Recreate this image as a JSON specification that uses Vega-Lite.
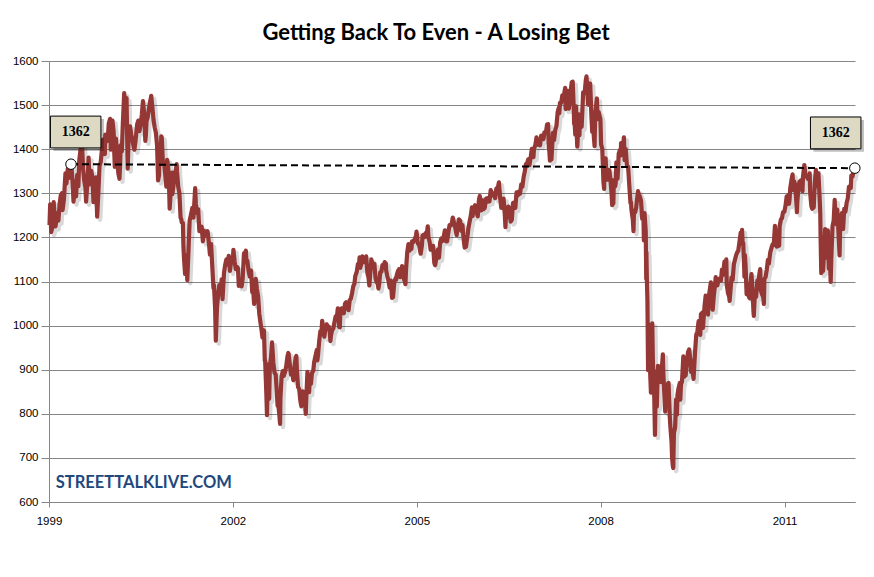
{
  "$schema": "https://vega.github.io/schema/vega-lite/v6.json",
  "width": 806,
  "height": 441,
  "autosize": "none",
  "padding": {"left": 49, "top": 61, "right": 19, "bottom": 75},
  "background": "white",
  "config": {"view": {"stroke": null}, "font": "Lato"},
  "title": {
    "text": "Getting Back To Even - A Losing Bet",
    "font": "Lato",
    "fontSize": 22,
    "fontWeight": "bold",
    "color": "#000000",
    "anchor": "middle",
    "dx": -16,
    "dy": 32,
    "offset": 20,
    "baseline": "bottom"
  },
  "datasets": {
    "sp": [
      {"d":"1999-01-04","v":1228},{"d":"1999-01-08","v":1275},{"d":"1999-01-14","v":1212},{"d":"1999-01-22","v":1225},{"d":"1999-01-29","v":1280},
      {"d":"1999-02-05","v":1240},{"d":"1999-02-09","v":1225},{"d":"1999-02-18","v":1255},{"d":"1999-02-26","v":1238},
      {"d":"1999-03-05","v":1275},{"d":"1999-03-12","v":1295},{"d":"1999-03-19","v":1300},{"d":"1999-03-23","v":1262},{"d":"1999-03-31","v":1286},
      {"d":"1999-04-09","v":1345},{"d":"1999-04-15","v":1322},{"d":"1999-04-23","v":1356},{"d":"1999-04-30","v":1335},
      {"d":"1999-05-07","v":1345},{"d":"1999-05-13","v":1367},{"d":"1999-05-21","v":1330},{"d":"1999-05-27","v":1281},{"d":"1999-05-31","v":1302},
      {"d":"1999-06-04","v":1327},{"d":"1999-06-11","v":1293},{"d":"1999-06-18","v":1342},{"d":"1999-06-25","v":1316},{"d":"1999-06-30","v":1373},
      {"d":"1999-07-09","v":1403},{"d":"1999-07-16","v":1418},{"d":"1999-07-23","v":1356},{"d":"1999-07-30","v":1329},
      {"d":"1999-08-06","v":1313},{"d":"1999-08-10","v":1281},{"d":"1999-08-20","v":1336},{"d":"1999-08-25","v":1381},{"d":"1999-08-31","v":1320},
      {"d":"1999-09-10","v":1351},{"d":"1999-09-17","v":1335},{"d":"1999-09-23","v":1280},{"d":"1999-09-30","v":1282},
      {"d":"1999-10-08","v":1336},{"d":"1999-10-15","v":1247},{"d":"1999-10-22","v":1301},{"d":"1999-10-29","v":1362},
      {"d":"1999-11-05","v":1370},{"d":"1999-11-12","v":1397},{"d":"1999-11-19","v":1422},{"d":"1999-11-26","v":1417},{"d":"1999-11-30","v":1389},
      {"d":"1999-12-03","v":1433},{"d":"1999-12-10","v":1417},{"d":"1999-12-17","v":1421},{"d":"1999-12-23","v":1458},{"d":"1999-12-31","v":1469},
      {"d":"2000-01-03","v":1455},{"d":"2000-01-04","v":1399},{"d":"2000-01-07","v":1441},{"d":"2000-01-14","v":1465},{"d":"2000-01-21","v":1441},{"d":"2000-01-28","v":1360},{"d":"2000-01-31","v":1394},
      {"d":"2000-02-04","v":1424},{"d":"2000-02-11","v":1387},{"d":"2000-02-18","v":1346},{"d":"2000-02-25","v":1333},{"d":"2000-02-29","v":1366},
      {"d":"2000-03-03","v":1409},{"d":"2000-03-10","v":1395},{"d":"2000-03-16","v":1458},{"d":"2000-03-24","v":1527},{"d":"2000-03-31","v":1499},
      {"d":"2000-04-07","v":1516},{"d":"2000-04-14","v":1356},{"d":"2000-04-20","v":1434},{"d":"2000-04-28","v":1452},
      {"d":"2000-05-05","v":1433},{"d":"2000-05-12","v":1421},{"d":"2000-05-19","v":1406},{"d":"2000-05-24","v":1399},{"d":"2000-05-31","v":1420},
      {"d":"2000-06-09","v":1456},{"d":"2000-06-16","v":1465},{"d":"2000-06-23","v":1441},{"d":"2000-06-30","v":1455},
      {"d":"2000-07-07","v":1478},{"d":"2000-07-14","v":1509},{"d":"2000-07-21","v":1481},{"d":"2000-07-28","v":1419},{"d":"2000-07-31","v":1431},
      {"d":"2000-08-04","v":1463},{"d":"2000-08-11","v":1472},{"d":"2000-08-18","v":1491},{"d":"2000-08-25","v":1507},{"d":"2000-08-31","v":1518},
      {"d":"2000-09-01","v":1521},{"d":"2000-09-08","v":1495},{"d":"2000-09-15","v":1466},{"d":"2000-09-22","v":1449},{"d":"2000-09-29","v":1437},
      {"d":"2000-10-06","v":1408},{"d":"2000-10-12","v":1329},{"d":"2000-10-18","v":1342},{"d":"2000-10-20","v":1396},{"d":"2000-10-27","v":1379},{"d":"2000-10-31","v":1429},
      {"d":"2000-11-03","v":1427},{"d":"2000-11-10","v":1366},{"d":"2000-11-17","v":1368},{"d":"2000-11-24","v":1341},{"d":"2000-11-30","v":1315},
      {"d":"2000-12-05","v":1376},{"d":"2000-12-08","v":1370},{"d":"2000-12-15","v":1340},{"d":"2000-12-20","v":1265},{"d":"2000-12-29","v":1320},
      {"d":"2001-01-03","v":1347},{"d":"2001-01-05","v":1298},{"d":"2001-01-12","v":1318},{"d":"2001-01-19","v":1342},{"d":"2001-01-26","v":1354},{"d":"2001-01-31","v":1366},
      {"d":"2001-02-02","v":1349},{"d":"2001-02-09","v":1315},{"d":"2001-02-16","v":1301},{"d":"2001-02-23","v":1245},{"d":"2001-02-28","v":1240},
      {"d":"2001-03-02","v":1234},{"d":"2001-03-09","v":1233},{"d":"2001-03-12","v":1180},{"d":"2001-03-16","v":1150},{"d":"2001-03-22","v":1117},{"d":"2001-03-30","v":1160},
      {"d":"2001-04-04","v":1103},{"d":"2001-04-11","v":1168},{"d":"2001-04-18","v":1238},{"d":"2001-04-27","v":1253},
      {"d":"2001-05-04","v":1267},{"d":"2001-05-11","v":1245},{"d":"2001-05-21","v":1312},{"d":"2001-05-25","v":1277},{"d":"2001-05-31","v":1256},
      {"d":"2001-06-08","v":1264},{"d":"2001-06-15","v":1214},{"d":"2001-06-22","v":1225},{"d":"2001-06-29","v":1224},
      {"d":"2001-07-06","v":1191},{"d":"2001-07-13","v":1215},{"d":"2001-07-20","v":1210},{"d":"2001-07-27","v":1205},{"d":"2001-07-31","v":1211},
      {"d":"2001-08-03","v":1214},{"d":"2001-08-10","v":1190},{"d":"2001-08-17","v":1161},{"d":"2001-08-24","v":1185},{"d":"2001-08-31","v":1134},
      {"d":"2001-09-07","v":1085},{"d":"2001-09-10","v":1092},{"d":"2001-09-17","v":1039},{"d":"2001-09-21","v":966},{"d":"2001-09-28","v":1041},
      {"d":"2001-10-05","v":1071},{"d":"2001-10-12","v":1092},{"d":"2001-10-19","v":1073},{"d":"2001-10-26","v":1105},{"d":"2001-10-31","v":1060},
      {"d":"2001-11-09","v":1120},{"d":"2001-11-16","v":1138},{"d":"2001-11-23","v":1150},{"d":"2001-11-30","v":1139},
      {"d":"2001-12-07","v":1158},{"d":"2001-12-14","v":1124},{"d":"2001-12-21","v":1144},{"d":"2001-12-31","v":1148},
      {"d":"2002-01-04","v":1172},{"d":"2002-01-11","v":1146},{"d":"2002-01-18","v":1128},{"d":"2002-01-25","v":1133},{"d":"2002-01-31","v":1130},
      {"d":"2002-02-05","v":1090},{"d":"2002-02-08","v":1096},{"d":"2002-02-15","v":1104},{"d":"2002-02-22","v":1089},{"d":"2002-02-28","v":1107},
      {"d":"2002-03-08","v":1164},{"d":"2002-03-15","v":1166},{"d":"2002-03-19","v":1170},{"d":"2002-03-22","v":1149},{"d":"2002-03-28","v":1147},
      {"d":"2002-04-05","v":1122},{"d":"2002-04-12","v":1111},{"d":"2002-04-19","v":1125},{"d":"2002-04-26","v":1076},{"d":"2002-04-30","v":1077},
      {"d":"2002-05-03","v":1073},{"d":"2002-05-07","v":1049},{"d":"2002-05-10","v":1054},{"d":"2002-05-17","v":1106},{"d":"2002-05-24","v":1083},{"d":"2002-05-31","v":1067},
      {"d":"2002-06-07","v":1027},{"d":"2002-06-14","v":1007},{"d":"2002-06-21","v":989},{"d":"2002-06-26","v":973},{"d":"2002-06-28","v":990},
      {"d":"2002-07-05","v":989},{"d":"2002-07-10","v":920},{"d":"2002-07-12","v":921},{"d":"2002-07-19","v":847},{"d":"2002-07-23","v":797},{"d":"2002-07-26","v":852},{"d":"2002-07-31","v":912},
      {"d":"2002-08-02","v":864},{"d":"2002-08-05","v":834},{"d":"2002-08-09","v":908},{"d":"2002-08-16","v":928},{"d":"2002-08-22","v":962},{"d":"2002-08-30","v":916},
      {"d":"2002-09-06","v":893},{"d":"2002-09-13","v":889},{"d":"2002-09-20","v":846},{"d":"2002-09-24","v":819},{"d":"2002-09-30","v":815},
      {"d":"2002-10-04","v":800},{"d":"2002-10-09","v":777},{"d":"2002-10-11","v":835},{"d":"2002-10-18","v":884},{"d":"2002-10-25","v":897},{"d":"2002-10-31","v":886},
      {"d":"2002-11-08","v":895},{"d":"2002-11-15","v":909},{"d":"2002-11-22","v":930},{"d":"2002-11-27","v":938},{"d":"2002-11-29","v":936},
      {"d":"2002-12-06","v":912},{"d":"2002-12-13","v":889},{"d":"2002-12-20","v":895},{"d":"2002-12-27","v":876},{"d":"2002-12-31","v":880},
      {"d":"2003-01-03","v":908},{"d":"2003-01-10","v":927},{"d":"2003-01-14","v":931},{"d":"2003-01-17","v":901},{"d":"2003-01-24","v":861},{"d":"2003-01-31","v":856},
      {"d":"2003-02-07","v":829},{"d":"2003-02-13","v":817},{"d":"2003-02-14","v":834},{"d":"2003-02-21","v":851},{"d":"2003-02-28","v":841},
      {"d":"2003-03-07","v":829},{"d":"2003-03-11","v":800},{"d":"2003-03-14","v":833},{"d":"2003-03-21","v":895},{"d":"2003-03-28","v":863},{"d":"2003-03-31","v":849},
      {"d":"2003-04-04","v":878},{"d":"2003-04-11","v":868},{"d":"2003-04-17","v":893},{"d":"2003-04-25","v":898},{"d":"2003-04-30","v":917},
      {"d":"2003-05-09","v":933},{"d":"2003-05-16","v":945},{"d":"2003-05-19","v":921},{"d":"2003-05-23","v":933},{"d":"2003-05-30","v":964},
      {"d":"2003-06-06","v":987},{"d":"2003-06-13","v":988},{"d":"2003-06-17","v":1011},{"d":"2003-06-24","v":983},{"d":"2003-06-30","v":975},
      {"d":"2003-07-03","v":985},{"d":"2003-07-11","v":998},{"d":"2003-07-14","v":1003},{"d":"2003-07-18","v":994},{"d":"2003-07-25","v":998},{"d":"2003-07-31","v":990},
      {"d":"2003-08-05","v":965},{"d":"2003-08-08","v":977},{"d":"2003-08-15","v":990},{"d":"2003-08-22","v":993},{"d":"2003-08-29","v":1008},
      {"d":"2003-09-05","v":1021},{"d":"2003-09-12","v":1018},{"d":"2003-09-18","v":1039},{"d":"2003-09-26","v":997},{"d":"2003-09-30","v":996},
      {"d":"2003-10-03","v":1029},{"d":"2003-10-10","v":1039},{"d":"2003-10-17","v":1039},{"d":"2003-10-24","v":1028},{"d":"2003-10-31","v":1050},
      {"d":"2003-11-07","v":1053},{"d":"2003-11-14","v":1050},{"d":"2003-11-21","v":1035},{"d":"2003-11-28","v":1058},
      {"d":"2003-12-05","v":1061},{"d":"2003-12-12","v":1074},{"d":"2003-12-19","v":1089},{"d":"2003-12-26","v":1095},{"d":"2003-12-31","v":1112},
      {"d":"2004-01-09","v":1122},{"d":"2004-01-16","v":1140},{"d":"2004-01-23","v":1141},{"d":"2004-01-26","v":1155},{"d":"2004-01-30","v":1131},
      {"d":"2004-02-06","v":1142},{"d":"2004-02-11","v":1157},{"d":"2004-02-20","v":1144},{"d":"2004-02-27","v":1145},
      {"d":"2004-03-05","v":1157},{"d":"2004-03-12","v":1120},{"d":"2004-03-19","v":1109},{"d":"2004-03-24","v":1091},{"d":"2004-03-31","v":1126},
      {"d":"2004-04-05","v":1150},{"d":"2004-04-16","v":1134},{"d":"2004-04-23","v":1140},{"d":"2004-04-30","v":1107},
      {"d":"2004-05-07","v":1098},{"d":"2004-05-12","v":1097},{"d":"2004-05-17","v":1084},{"d":"2004-05-21","v":1093},{"d":"2004-05-28","v":1121},
      {"d":"2004-06-04","v":1122},{"d":"2004-06-10","v":1137},{"d":"2004-06-18","v":1135},{"d":"2004-06-23","v":1144},{"d":"2004-06-30","v":1141},
      {"d":"2004-07-02","v":1126},{"d":"2004-07-09","v":1112},{"d":"2004-07-16","v":1101},{"d":"2004-07-23","v":1086},{"d":"2004-07-30","v":1102},
      {"d":"2004-08-06","v":1063},{"d":"2004-08-12","v":1064},{"d":"2004-08-20","v":1099},{"d":"2004-08-27","v":1107},{"d":"2004-08-31","v":1104},
      {"d":"2004-09-03","v":1114},{"d":"2004-09-10","v":1123},{"d":"2004-09-17","v":1128},{"d":"2004-09-24","v":1110},{"d":"2004-09-30","v":1115},
      {"d":"2004-10-05","v":1135},{"d":"2004-10-15","v":1108},{"d":"2004-10-25","v":1094},{"d":"2004-10-29","v":1130},
      {"d":"2004-11-05","v":1167},{"d":"2004-11-12","v":1185},{"d":"2004-11-19","v":1170},{"d":"2004-11-26","v":1182},{"d":"2004-11-30","v":1174},
      {"d":"2004-12-03","v":1191},{"d":"2004-12-10","v":1189},{"d":"2004-12-17","v":1194},{"d":"2004-12-27","v":1204},{"d":"2004-12-30","v":1213},
      {"d":"2005-01-07","v":1186},{"d":"2005-01-14","v":1184},{"d":"2005-01-21","v":1168},{"d":"2005-01-24","v":1163},{"d":"2005-01-31","v":1181},
      {"d":"2005-02-04","v":1204},{"d":"2005-02-11","v":1206},{"d":"2005-02-18","v":1201},{"d":"2005-02-25","v":1211},{"d":"2005-02-28","v":1204},
      {"d":"2005-03-07","v":1225},{"d":"2005-03-11","v":1200},{"d":"2005-03-18","v":1190},{"d":"2005-03-24","v":1172},{"d":"2005-03-31","v":1181},
      {"d":"2005-04-08","v":1181},{"d":"2005-04-15","v":1142},{"d":"2005-04-20","v":1137},{"d":"2005-04-29","v":1157},
      {"d":"2005-05-06","v":1172},{"d":"2005-05-13","v":1154},{"d":"2005-05-20","v":1189},{"d":"2005-05-27","v":1198},{"d":"2005-05-31","v":1191},
      {"d":"2005-06-03","v":1197},{"d":"2005-06-10","v":1201},{"d":"2005-06-17","v":1216},{"d":"2005-06-24","v":1191},{"d":"2005-06-30","v":1191},
      {"d":"2005-07-08","v":1212},{"d":"2005-07-15","v":1228},{"d":"2005-07-22","v":1227},{"d":"2005-07-29","v":1234},
      {"d":"2005-08-03","v":1245},{"d":"2005-08-12","v":1231},{"d":"2005-08-19","v":1220},{"d":"2005-08-26","v":1205},{"d":"2005-08-31","v":1220},
      {"d":"2005-09-09","v":1241},{"d":"2005-09-16","v":1238},{"d":"2005-09-23","v":1215},{"d":"2005-09-30","v":1228},
      {"d":"2005-10-07","v":1195},{"d":"2005-10-13","v":1177},{"d":"2005-10-21","v":1179},{"d":"2005-10-28","v":1199},{"d":"2005-10-31","v":1207},
      {"d":"2005-11-04","v":1220},{"d":"2005-11-11","v":1235},{"d":"2005-11-18","v":1248},{"d":"2005-11-25","v":1268},{"d":"2005-11-30","v":1249},
      {"d":"2005-12-02","v":1265},{"d":"2005-12-09","v":1259},{"d":"2005-12-14","v":1273},{"d":"2005-12-20","v":1260},{"d":"2005-12-30","v":1248},
      {"d":"2006-01-06","v":1285},{"d":"2006-01-11","v":1294},{"d":"2006-01-20","v":1261},{"d":"2006-01-27","v":1284},{"d":"2006-01-31","v":1280},
      {"d":"2006-02-03","v":1264},{"d":"2006-02-10","v":1267},{"d":"2006-02-17","v":1288},{"d":"2006-02-24","v":1289},{"d":"2006-02-28","v":1281},
      {"d":"2006-03-03","v":1288},{"d":"2006-03-10","v":1282},{"d":"2006-03-17","v":1307},{"d":"2006-03-24","v":1302},{"d":"2006-03-31","v":1295},
      {"d":"2006-04-07","v":1295},{"d":"2006-04-13","v":1289},{"d":"2006-04-20","v":1311},{"d":"2006-04-28","v":1311},
      {"d":"2006-05-05","v":1325},{"d":"2006-05-12","v":1291},{"d":"2006-05-19","v":1267},{"d":"2006-05-26","v":1280},{"d":"2006-05-31","v":1270},
      {"d":"2006-06-02","v":1288},{"d":"2006-06-09","v":1253},{"d":"2006-06-13","v":1223},{"d":"2006-06-16","v":1251},{"d":"2006-06-23","v":1245},{"d":"2006-06-30","v":1270},
      {"d":"2006-07-07","v":1265},{"d":"2006-07-14","v":1236},{"d":"2006-07-21","v":1240},{"d":"2006-07-28","v":1278},
      {"d":"2006-08-04","v":1279},{"d":"2006-08-11","v":1267},{"d":"2006-08-18","v":1302},{"d":"2006-08-25","v":1295},{"d":"2006-08-31","v":1304},
      {"d":"2006-09-08","v":1299},{"d":"2006-09-15","v":1320},{"d":"2006-09-22","v":1315},{"d":"2006-09-29","v":1336},
      {"d":"2006-10-06","v":1349},{"d":"2006-10-13","v":1366},{"d":"2006-10-20","v":1368},{"d":"2006-10-27","v":1377},{"d":"2006-10-31","v":1378},
      {"d":"2006-11-03","v":1364},{"d":"2006-11-10","v":1380},{"d":"2006-11-17","v":1401},{"d":"2006-11-27","v":1382},{"d":"2006-11-30","v":1401},
      {"d":"2006-12-08","v":1409},{"d":"2006-12-15","v":1427},{"d":"2006-12-22","v":1410},{"d":"2006-12-29","v":1418},
      {"d":"2007-01-05","v":1409},{"d":"2007-01-12","v":1431},{"d":"2007-01-19","v":1431},{"d":"2007-01-26","v":1423},{"d":"2007-01-31","v":1438},
      {"d":"2007-02-09","v":1438},{"d":"2007-02-16","v":1456},{"d":"2007-02-22","v":1457},{"d":"2007-02-27","v":1399},{"d":"2007-02-28","v":1406},
      {"d":"2007-03-05","v":1374},{"d":"2007-03-09","v":1403},{"d":"2007-03-14","v":1377},{"d":"2007-03-23","v":1437},{"d":"2007-03-30","v":1421},
      {"d":"2007-04-06","v":1444},{"d":"2007-04-13","v":1453},{"d":"2007-04-20","v":1484},{"d":"2007-04-27","v":1494},{"d":"2007-04-30","v":1482},
      {"d":"2007-05-04","v":1505},{"d":"2007-05-11","v":1505},{"d":"2007-05-18","v":1522},{"d":"2007-05-25","v":1515},{"d":"2007-05-31","v":1530},
      {"d":"2007-06-04","v":1539},{"d":"2007-06-07","v":1491},{"d":"2007-06-15","v":1533},{"d":"2007-06-22","v":1502},{"d":"2007-06-26","v":1492},{"d":"2007-06-29","v":1503},
      {"d":"2007-07-06","v":1530},{"d":"2007-07-13","v":1552},{"d":"2007-07-19","v":1553},{"d":"2007-07-26","v":1482},{"d":"2007-07-27","v":1458},{"d":"2007-07-31","v":1455},
      {"d":"2007-08-03","v":1433},{"d":"2007-08-08","v":1497},{"d":"2007-08-10","v":1453},{"d":"2007-08-15","v":1406},{"d":"2007-08-16","v":1411},{"d":"2007-08-24","v":1479},{"d":"2007-08-28","v":1432},{"d":"2007-08-31","v":1474},
      {"d":"2007-09-07","v":1454},{"d":"2007-09-10","v":1451},{"d":"2007-09-14","v":1484},{"d":"2007-09-19","v":1529},{"d":"2007-09-28","v":1527},
      {"d":"2007-10-05","v":1557},{"d":"2007-10-09","v":1565},{"d":"2007-10-19","v":1501},{"d":"2007-10-26","v":1536},{"d":"2007-10-31","v":1549},
      {"d":"2007-11-07","v":1476},{"d":"2007-11-12","v":1439},{"d":"2007-11-16","v":1458},{"d":"2007-11-26","v":1407},{"d":"2007-11-30","v":1481},
      {"d":"2007-12-10","v":1515},{"d":"2007-12-14","v":1468},{"d":"2007-12-21","v":1484},{"d":"2007-12-31","v":1468},
      {"d":"2008-01-04","v":1411},{"d":"2008-01-11","v":1401},{"d":"2008-01-18","v":1325},{"d":"2008-01-22","v":1310},{"d":"2008-01-23","v":1338},{"d":"2008-01-31","v":1379},
      {"d":"2008-02-05","v":1337},{"d":"2008-02-08","v":1331},{"d":"2008-02-15","v":1349},{"d":"2008-02-22","v":1353},{"d":"2008-02-29","v":1331},
      {"d":"2008-03-07","v":1294},{"d":"2008-03-10","v":1273},{"d":"2008-03-14","v":1288},{"d":"2008-03-17","v":1277},{"d":"2008-03-20","v":1330},{"d":"2008-03-28","v":1316},{"d":"2008-03-31","v":1323},
      {"d":"2008-04-04","v":1370},{"d":"2008-04-11","v":1333},{"d":"2008-04-18","v":1390},{"d":"2008-04-25","v":1398},{"d":"2008-04-30","v":1386},
      {"d":"2008-05-02","v":1414},{"d":"2008-05-09","v":1388},{"d":"2008-05-19","v":1427},{"d":"2008-05-23","v":1375},{"d":"2008-05-30","v":1400},
      {"d":"2008-06-06","v":1361},{"d":"2008-06-13","v":1360},{"d":"2008-06-20","v":1318},{"d":"2008-06-27","v":1278},{"d":"2008-06-30","v":1280},
      {"d":"2008-07-03","v":1262},{"d":"2008-07-11","v":1240},{"d":"2008-07-15","v":1214},{"d":"2008-07-18","v":1261},{"d":"2008-07-25","v":1257},{"d":"2008-07-31","v":1267},
      {"d":"2008-08-08","v":1297},{"d":"2008-08-11","v":1305},{"d":"2008-08-15","v":1298},{"d":"2008-08-22","v":1293},{"d":"2008-08-29","v":1283},
      {"d":"2008-09-05","v":1242},{"d":"2008-09-12","v":1252},{"d":"2008-09-15","v":1193},{"d":"2008-09-19","v":1255},{"d":"2008-09-26","v":1213},{"d":"2008-09-29","v":1106},{"d":"2008-09-30","v":1166},
      {"d":"2008-10-03","v":1100},{"d":"2008-10-06","v":1057},{"d":"2008-10-10","v":899},{"d":"2008-10-13","v":1003},{"d":"2008-10-15","v":908},{"d":"2008-10-17","v":940},{"d":"2008-10-22","v":896},{"d":"2008-10-24","v":877},{"d":"2008-10-27","v":848},{"d":"2008-10-28","v":941},{"d":"2008-10-31","v":968},
      {"d":"2008-11-04","v":1005},{"d":"2008-11-07","v":930},{"d":"2008-11-12","v":852},{"d":"2008-11-14","v":873},{"d":"2008-11-20","v":752},{"d":"2008-11-24","v":851},{"d":"2008-11-28","v":896},
      {"d":"2008-12-01","v":816},{"d":"2008-12-05","v":876},{"d":"2008-12-08","v":909},{"d":"2008-12-12","v":880},{"d":"2008-12-19","v":888},{"d":"2008-12-26","v":872},{"d":"2008-12-31","v":903},
      {"d":"2009-01-06","v":935},{"d":"2009-01-09","v":890},{"d":"2009-01-15","v":844},{"d":"2009-01-20","v":805},{"d":"2009-01-21","v":841},{"d":"2009-01-30","v":826},
      {"d":"2009-02-06","v":869},{"d":"2009-02-09","v":870},{"d":"2009-02-13","v":827},{"d":"2009-02-17","v":789},{"d":"2009-02-20","v":770},{"d":"2009-02-27","v":735},
      {"d":"2009-03-02","v":700},{"d":"2009-03-06","v":683},{"d":"2009-03-09","v":677},{"d":"2009-03-13","v":757},{"d":"2009-03-20","v":769},{"d":"2009-03-26","v":833},{"d":"2009-03-31","v":798},
      {"d":"2009-04-03","v":843},{"d":"2009-04-09","v":857},{"d":"2009-04-17","v":870},{"d":"2009-04-20","v":832},{"d":"2009-04-24","v":866},{"d":"2009-04-30","v":873},
      {"d":"2009-05-08","v":930},{"d":"2009-05-13","v":884},{"d":"2009-05-19","v":908},{"d":"2009-05-22","v":887},{"d":"2009-05-29","v":919},
      {"d":"2009-06-05","v":940},{"d":"2009-06-12","v":946},{"d":"2009-06-19","v":921},{"d":"2009-06-23","v":895},{"d":"2009-06-30","v":919},
      {"d":"2009-07-02","v":897},{"d":"2009-07-08","v":879},{"d":"2009-07-17","v":941},{"d":"2009-07-24","v":979},{"d":"2009-07-31","v":987},
      {"d":"2009-08-07","v":1010},{"d":"2009-08-14","v":1005},{"d":"2009-08-17","v":979},{"d":"2009-08-21","v":1026},{"d":"2009-08-28","v":1029},
      {"d":"2009-09-02","v":995},{"d":"2009-09-11","v":1042},{"d":"2009-09-18","v":1068},{"d":"2009-09-25","v":1044},{"d":"2009-09-30","v":1057},
      {"d":"2009-10-02","v":1025},{"d":"2009-10-09","v":1071},{"d":"2009-10-19","v":1098},{"d":"2009-10-23","v":1079},{"d":"2009-10-30","v":1036},
      {"d":"2009-11-06","v":1069},{"d":"2009-11-13","v":1093},{"d":"2009-11-17","v":1110},{"d":"2009-11-20","v":1091},{"d":"2009-11-27","v":1091},
      {"d":"2009-12-04","v":1106},{"d":"2009-12-11","v":1106},{"d":"2009-12-18","v":1102},{"d":"2009-12-24","v":1127},{"d":"2009-12-31","v":1115},
      {"d":"2010-01-08","v":1145},{"d":"2010-01-15","v":1136},{"d":"2010-01-19","v":1150},{"d":"2010-01-22","v":1092},{"d":"2010-01-29","v":1074},
      {"d":"2010-02-05","v":1066},{"d":"2010-02-08","v":1056},{"d":"2010-02-12","v":1075},{"d":"2010-02-19","v":1109},{"d":"2010-02-26","v":1104},
      {"d":"2010-03-05","v":1139},{"d":"2010-03-12","v":1150},{"d":"2010-03-19","v":1160},{"d":"2010-03-26","v":1167},{"d":"2010-03-31","v":1169},
      {"d":"2010-04-09","v":1194},{"d":"2010-04-15","v":1211},{"d":"2010-04-16","v":1192},{"d":"2010-04-23","v":1217},{"d":"2010-04-27","v":1183},{"d":"2010-04-30","v":1187},
      {"d":"2010-05-06","v":1128},{"d":"2010-05-07","v":1111},{"d":"2010-05-10","v":1160},{"d":"2010-05-14","v":1136},{"d":"2010-05-20","v":1071},{"d":"2010-05-25","v":1074},{"d":"2010-05-28","v":1089},
      {"d":"2010-06-04","v":1064},{"d":"2010-06-08","v":1062},{"d":"2010-06-11","v":1092},{"d":"2010-06-18","v":1117},{"d":"2010-06-25","v":1076},{"d":"2010-06-30","v":1031},
      {"d":"2010-07-02","v":1022},{"d":"2010-07-09","v":1078},{"d":"2010-07-16","v":1065},{"d":"2010-07-23","v":1102},{"d":"2010-07-30","v":1102},
      {"d":"2010-08-06","v":1122},{"d":"2010-08-09","v":1128},{"d":"2010-08-13","v":1080},{"d":"2010-08-20","v":1071},{"d":"2010-08-27","v":1065},{"d":"2010-08-31","v":1049},
      {"d":"2010-09-03","v":1105},{"d":"2010-09-10","v":1110},{"d":"2010-09-17","v":1126},{"d":"2010-09-24","v":1149},{"d":"2010-09-30","v":1141},
      {"d":"2010-10-08","v":1166},{"d":"2010-10-15","v":1176},{"d":"2010-10-22","v":1184},{"d":"2010-10-29","v":1183},
      {"d":"2010-11-05","v":1226},{"d":"2010-11-12","v":1200},{"d":"2010-11-16","v":1179},{"d":"2010-11-19","v":1200},{"d":"2010-11-26","v":1190},{"d":"2010-11-30","v":1181},
      {"d":"2010-12-03","v":1225},{"d":"2010-12-10","v":1240},{"d":"2010-12-17","v":1244},{"d":"2010-12-23","v":1257},{"d":"2010-12-31","v":1258},
      {"d":"2011-01-07","v":1272},{"d":"2011-01-14","v":1293},{"d":"2011-01-21","v":1283},{"d":"2011-01-26","v":1297},{"d":"2011-01-28","v":1276},{"d":"2011-01-31","v":1286},
      {"d":"2011-02-04","v":1311},{"d":"2011-02-11","v":1329},{"d":"2011-02-18","v":1343},{"d":"2011-02-23","v":1307},{"d":"2011-02-28","v":1327},
      {"d":"2011-03-04","v":1321},{"d":"2011-03-10","v":1295},{"d":"2011-03-16","v":1257},{"d":"2011-03-18","v":1279},{"d":"2011-03-25","v":1314},{"d":"2011-03-31","v":1326},
      {"d":"2011-04-08","v":1329},{"d":"2011-04-15","v":1320},{"d":"2011-04-18","v":1305},{"d":"2011-04-21","v":1337},{"d":"2011-04-29","v":1364},
      {"d":"2011-05-06","v":1340},{"d":"2011-05-13","v":1338},{"d":"2011-05-20","v":1333},{"d":"2011-05-27","v":1331},{"d":"2011-05-31","v":1345},
      {"d":"2011-06-03","v":1300},{"d":"2011-06-10","v":1271},{"d":"2011-06-15","v":1265},{"d":"2011-06-24","v":1268},{"d":"2011-06-30","v":1321},
      {"d":"2011-07-07","v":1353},{"d":"2011-07-15","v":1316},{"d":"2011-07-22","v":1345},{"d":"2011-07-29","v":1292},
      {"d":"2011-08-02","v":1254},{"d":"2011-08-04","v":1200},{"d":"2011-08-08","v":1119},{"d":"2011-08-09","v":1172},{"d":"2011-08-10","v":1120},{"d":"2011-08-11","v":1172},{"d":"2011-08-19","v":1124},{"d":"2011-08-26","v":1177},{"d":"2011-08-31","v":1219},
      {"d":"2011-09-06","v":1166},{"d":"2011-09-09","v":1154},{"d":"2011-09-16","v":1216},{"d":"2011-09-22","v":1129},{"d":"2011-09-27","v":1175},{"d":"2011-09-30","v":1131},
      {"d":"2011-10-03","v":1099},{"d":"2011-10-07","v":1155},{"d":"2011-10-14","v":1225},{"d":"2011-10-21","v":1238},{"d":"2011-10-27","v":1285},{"d":"2011-10-31","v":1253},
      {"d":"2011-11-04","v":1253},{"d":"2011-11-09","v":1229},{"d":"2011-11-11","v":1263},{"d":"2011-11-18","v":1216},{"d":"2011-11-25","v":1159},{"d":"2011-11-30","v":1247},
      {"d":"2011-12-02","v":1244},{"d":"2011-12-09","v":1255},{"d":"2011-12-16","v":1219},{"d":"2011-12-23","v":1265},{"d":"2011-12-30","v":1258},
      {"d":"2012-01-06","v":1278},{"d":"2012-01-13","v":1289},{"d":"2012-01-20","v":1315},{"d":"2012-01-27","v":1316},{"d":"2012-01-31","v":1312},
      {"d":"2012-02-03","v":1340},{"d":"2012-02-10","v":1338},{"d":"2012-02-17","v":1352},{"d":"2012-02-24","v":1357}
    ],
    "ref": [
      {"d":"1999-05-12","v":1366},
      {"d":"2012-02-24","v":1357}
    ],
    "boxes": [
      {"d":"1999-06-09","v":1439,"label":"1362"},
      {"d":"2011-11-02","v":1437,"label":"1362"}
    ],
    "mark": [
      {"d":"2000-07-19","v":643,"label":"STREETTALKLIVE.COM"}
    ]
  },
  "encoding": {
    "x": {
      "field": "d",
      "type": "temporal",
      "scale": {
        "domain": [{"year": 1999, "month": 1, "date": 1}, {"year": 2012, "month": 2, "date": 25}],
        "nice": false
      },
      "axis": {
        "title": null,
        "values": [
          {"year": 1999, "month": 1, "date": 1},
          {"year": 2002, "month": 1, "date": 1},
          {"year": 2005, "month": 1, "date": 1},
          {"year": 2008, "month": 1, "date": 1},
          {"year": 2011, "month": 1, "date": 1}
        ],
        "format": "%Y",
        "grid": false,
        "labelFlush": false,
        "labelOverlap": false,
        "tickSize": 5,
        "labelPadding": 8,
        "domainColor": "#868686",
        "tickColor": "#868686",
        "labelFont": "Liberation Sans",
        "labelFontSize": 11.5,
        "labelColor": "#000000"
      }
    },
    "y": {
      "field": "v",
      "type": "quantitative",
      "scale": {"domain": [600, 1600], "nice": false, "zero": false},
      "axis": {
        "title": null,
        "values": [600, 700, 800, 900, 1000, 1100, 1200, 1300, 1400, 1500, 1600],
        "format": "d",
        "grid": true,
        "gridColor": "#868686",
        "gridWidth": 1,
        "domainColor": "#868686",
        "tickColor": "#868686",
        "tickSize": 8,
        "labelPadding": 3,
        "labelFont": "Liberation Sans",
        "labelFontSize": 11.5,
        "labelColor": "#000000"
      }
    }
  },
  "layer": [
    {
      "data": {"name": "sp"},
      "mark": {"type": "line", "color": "#000000", "opacity": 0.15, "strokeWidth": 4.5, "xOffset": 3, "yOffset": 3, "strokeJoin": "round"}
    },
    {
      "data": {"name": "sp"},
      "mark": {"type": "line", "color": "#953735", "strokeWidth": 4.2, "strokeJoin": "round"}
    },
    {
      "data": {"name": "ref"},
      "mark": {"type": "line", "color": "#000000", "strokeWidth": 2, "strokeDash": [7, 4]}
    },
    {
      "data": {"name": "ref"},
      "mark": {"type": "point", "filled": true, "fill": "#ffffff", "stroke": "#000000", "strokeWidth": 1, "size": 110, "opacity": 1}
    },
    {
      "data": {"name": "boxes"},
      "mark": {"type": "point", "shape": "M-1,-0.63H1V0.63H-1Z", "size": 2550, "filled": true, "fill": "#000000", "opacity": 0.25, "strokeWidth": 0, "xOffset": 3, "yOffset": 3}
    },
    {
      "data": {"name": "boxes"},
      "mark": {"type": "point", "shape": "M-1,-0.63H1V0.63H-1Z", "size": 2550, "filled": true, "fill": "#DDD9C3", "stroke": "#000000", "strokeWidth": 1, "opacity": 1}
    },
    {
      "data": {"name": "boxes"},
      "mark": {"type": "text", "font": "Liberation Serif", "fontWeight": "bold", "fontSize": 14, "color": "#000000", "baseline": "middle", "align": "center"},
      "encoding": {"text": {"field": "label"}}
    },
    {
      "data": {"name": "mark"},
      "mark": {"type": "text", "font": "Lato", "fontWeight": "bold", "fontSize": 16.5, "color": "#1F497D", "baseline": "middle", "align": "center"},
      "encoding": {"text": {"field": "label"}}
    }
  ]
}
